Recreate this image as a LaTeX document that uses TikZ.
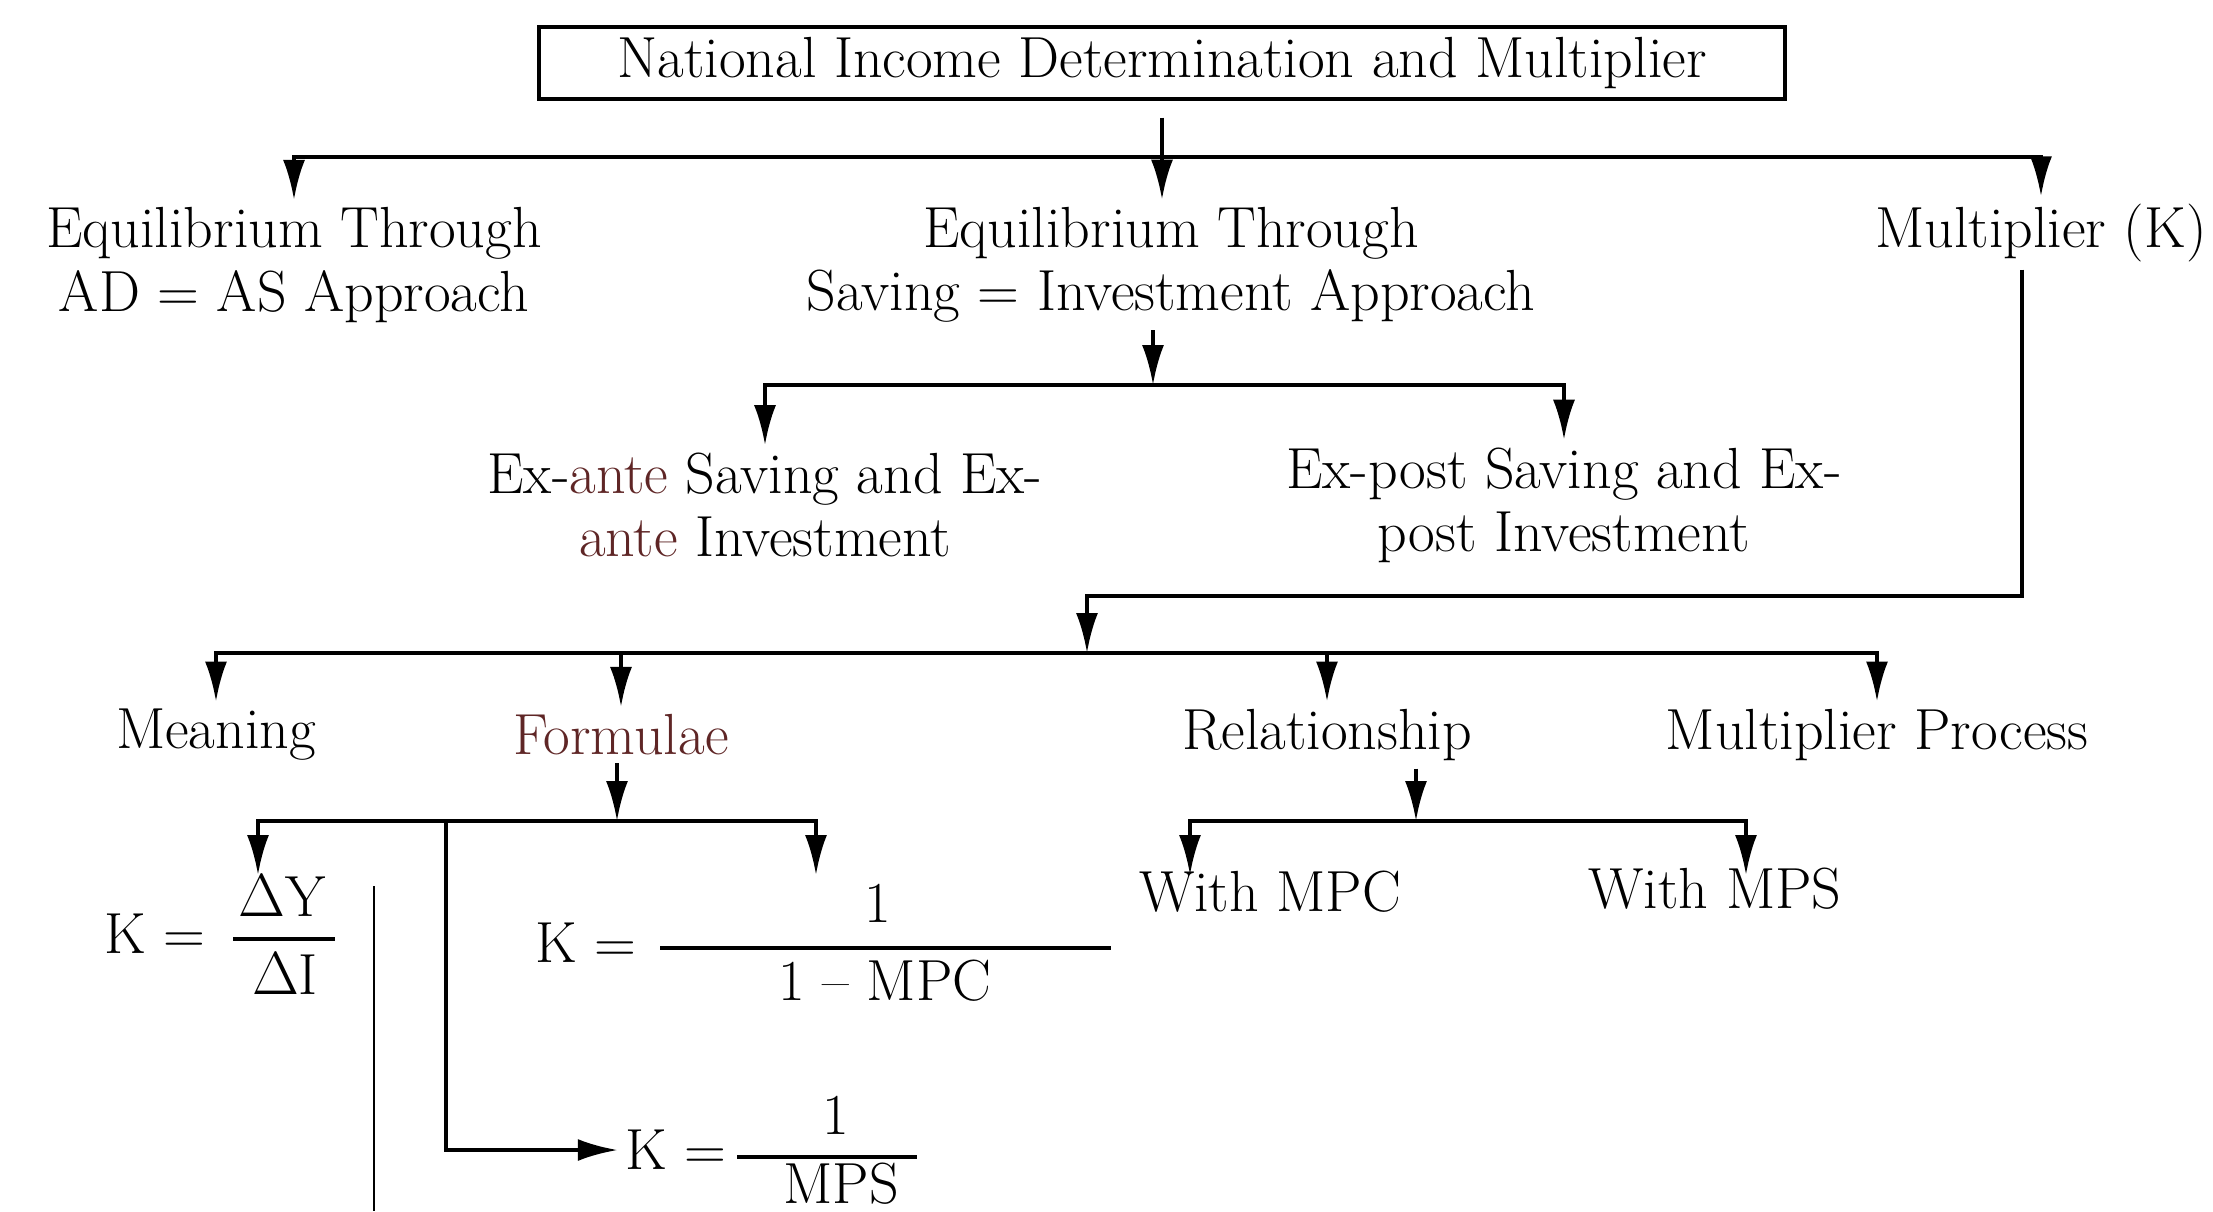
\documentclass[tikz,border=0pt]{standalone}
\usepackage{fontspec}
\usetikzlibrary{arrows.meta}
\definecolor{exred}{RGB}{95,38,38}
\tikzset{
	lbl/.style={font=\fontsize{16.5}{18}\selectfont, inner sep=2pt, align=center},
	arr/.style={-{Latex[length=4mm,width=2.2mm]}, line width=1.1pt},
	arrs/.style={{Latex[length=4mm,width=2.2mm]}-{Latex[length=4mm,width=2.2mm]}, line width=1.1pt},
	bar/.style={line width=1.1pt}
}
\begin{document}
\begin{tikzpicture}
		\useasboundingbox (0,0) rectangle (22.13,-12.11);

			\node[lbl, draw, line width=0.9pt, minimum width=12.46cm, minimum height=0.72cm] (t) at (11.62,-0.63) {National Income Determination and Multiplier};

			\node[lbl] (r2c1) at (2.94,-2.65)  {Equilibrium Through\\AD = AS Approach};
			\node[lbl] (r2c2) at (11.71,-2.65) {Equilibrium Through\\Saving = Investment Approach};
			\node[lbl] (r2c3) at (20.41,-2.33) {Multiplier (K)};

			\node[lbl] (r3c1) at (7.65,-5.05)  {Ex-{\color{exred}ante} Saving and Ex-\\{\color{exred}ante} Investment};
			\node[lbl] (r3c2) at (15.64,-5.05) {Ex-post Saving and Ex-\\post Investment};

			\node[lbl] (r4c1) at (2.16,-7.35)  {Meaning};
			\node[lbl, text=exred] (r4c2) at (6.21,-7.35) {Formulae};
			\node[lbl] (r4c3) at (13.27,-7.35) {Relationship};
			\node[lbl] (r4c4) at (18.77,-7.35) {Multiplier Process};

			\node[lbl] (r5c1) at (12.70,-8.92) {With MPC};
			\node[lbl] (r5c2) at (17.15,-8.89) {With MPS};

			\node[lbl] (f1k) at (1.55,-9.34) {K =};
			\node[lbl] (f1n) at (2.82,-8.96) {$\Delta$Y};
			\node[lbl] (f1d) at (2.85,-9.74) {$\Delta$I};
			\node[lbl] (f2k) at (5.86,-9.43) {K =};
			\node[lbl] (f2n) at (8.78,-9.03) {1};
			\node[lbl] (f2d) at (8.85,-9.81) {1 – MPC};
			\node[lbl] (f3k) at (6.76,-11.50) {K =};
			\node[lbl] (f3n) at (8.36,-11.15) {1};
			\node[lbl] (f3d) at (8.41,-11.84) {MPS};

			\draw[bar] (2.33,-9.39) -- (3.35,-9.39);
			\draw[bar] (6.60,-9.48) -- (11.11,-9.48);
			\draw[bar] (7.37,-11.57) -- (9.17,-11.57);

			\coordinate (j1) at (11.62,-1.57);
			\coordinate (j2) at (11.53,-3.85);
			\coordinate (k3) at (20.22,-5.96);
			\coordinate (j3) at (10.87,-6.53);
			\coordinate (j4) at (6.17,-8.21);
			\coordinate (j5) at (4.46,-8.21);
			\coordinate (j6) at (14.16,-8.21);
			\coordinate (c1) at (2.58,-8.75);
			\coordinate (c2) at (8.16,-8.75);
			\coordinate (c3) at (11.90,-8.75);
			\coordinate (c4) at (17.46,-8.75);

		\draw[arr, shorten <=0.17cm] (t.south) -- (t.south |- r2c2.north);
		\draw[arrs] (r2c1.north) |- (j1 -| r2c3) -- (r2c3.north);
		\draw[arr] (r2c2.south -| j2) -- (j2);
		\draw[arrs] (r3c1.north) |- (j2 -| r3c2) -- (r3c2.north);
		\draw[arr] (r2c3.south -| k3) |- (j3 |- k3) -- (j3);
		\draw[arrs] (r4c1.north) |- (j3 -| r4c4) -- (r4c4.north);
		\draw[arr] (j3 -| r4c2) -- (r4c2.north);
		\draw[arr] (j3 -| r4c3) -- (r4c3.north);
		\draw[arr] (r4c2.south -| j4) -- (j4);
		\draw[arrs] (c1) |- (c2 |- j4) -- (c2);
		\draw[arr] (j5) |- (f3k.west);
		\draw[arr] (r4c3.south -| j6) -- (j6);
		\draw[arrs] (c3) |- (c4 |- j6) -- (c4);
		\draw[line width=0.7pt] (3.74,-8.86) -- (3.74,-12.11);

		\end{tikzpicture}
\end{document}
